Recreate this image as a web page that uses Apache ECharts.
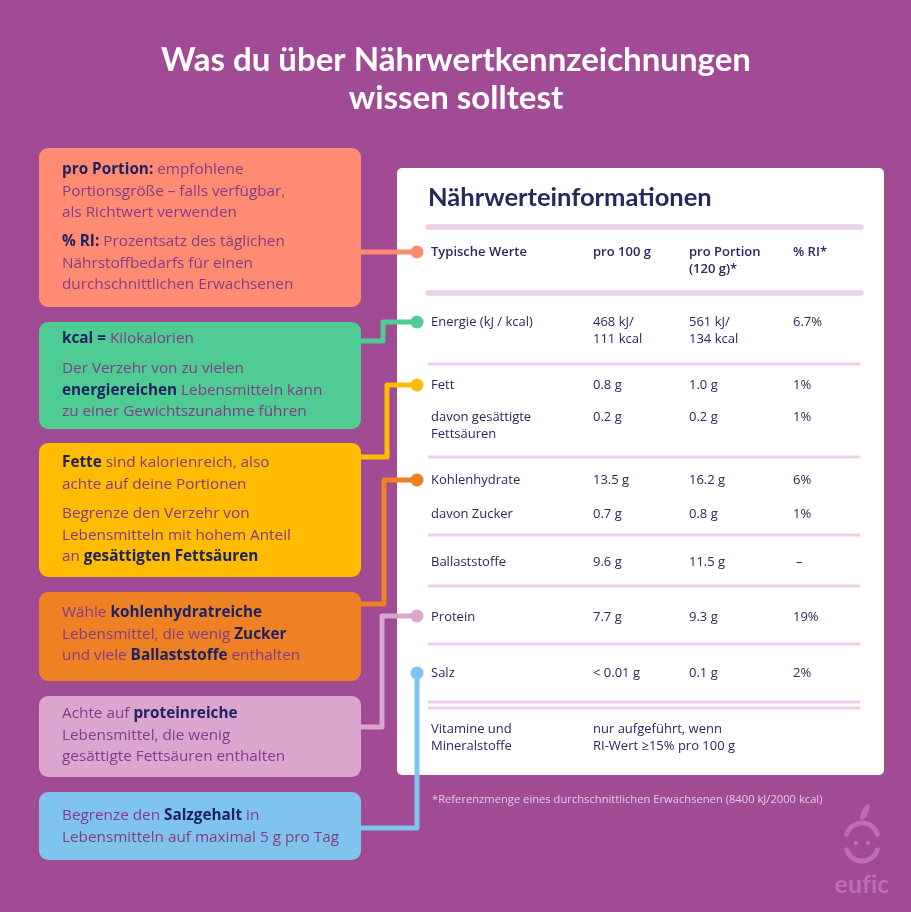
<!DOCTYPE html>
<html><head><meta charset="utf-8">
<script src="https://cdn.jsdelivr.net/npm/echarts@6/dist/echarts.min.js"></script>
<style>html,body{margin:0;padding:0;background:#A04B93}#c{width:911px;height:912px}</style>
</head><body><div id="c"></div>
<script>
// ---------- content ----------
const titleLines = ['Was du über Nährwertkennzeichnungen', 'wissen solltest'];
const tableTitle = 'Nährwerteinformationen';
const tableHeader = ['Typische Werte', 'pro 100 g', 'pro Portion\n(120 g)*', '% RI*'];
const nutrientLabels = ['Energie (kJ / kcal)', 'Fett', 'davon gesättigte\nFettsäuren', 'Kohlenhydrate', 'davon Zucker', 'Ballaststoffe', 'Protein', 'Salz'];
const per100g = ['468 kJ/\n111 kcal', '0.8 g', '0.2 g', '13.5 g', '0.7 g', '9.6 g', '7.7 g', '< 0.01 g'];
const perPortion = ['561 kJ/\n134 kcal', '1.0 g', '0.2 g', '16.2 g', '0.8 g', '11.5 g', '9.3 g', '0.1 g'];
const riPercent = ['6.7%', '1%', '1%', '6%', '1%', '–', '19%', '2%'];
const vitaminLabel = 'Vitamine und\nMineralstoffe';
const vitaminNote = 'nur aufgeführt, wenn\nRI-Wert ≥15% pro 100 g';
const footnote = '*Referenzmenge eines durchschnittlichen Erwachsenen (8400 kJ/2000 kcal)';
const logoText = 'eufic';
const tipTexts = [
  ['{b|pro Portion:} empfohlene\nPortionsgröße – falls verfügbar,\nals Richtwert verwenden',
   '{b|% RI:} Prozentsatz des täglichen\nNährstoffbedarfs für einen\ndurchschnittlichen Erwachsenen'],
  ['{b|kcal =} Kilokalorien',
   'Der Verzehr von zu vielen\n{b|energiereichen} Lebensmitteln kann\nzu einer Gewichtszunahme führen'],
  ['{b|Fette} sind kalorienreich, also\nachte auf deine Portionen',
   'Begrenze den Verzehr von\nLebensmitteln mit hohem Anteil\nan {b|gesättigten Fettsäuren}'],
  ['Wähle {b|kohlenhydratreiche}\nLebensmittel, die wenig {b|Zucker}\nund viele {b|Ballaststoffe} enthalten'],
  ['Achte auf {b|proteinreiche}\nLebensmittel, die wenig\ngesättigte Fettsäuren enthalten'],
  ['Begrenze den {b|Salzgehalt} in\nLebensmitteln auf maximal 5 g pro Tag']
];
const tipColors = ['#FF8B73', '#4FCB94', '#FFBC00', '#EE8123', '#DBA6CE', '#7FC4EC'];

// ---------- layout ----------
const FONT = 'Lato', BODY = 'Open Sans';
const BG = '#A04B93', NAVY = '#252A5C', PURPLE = '#843B88', RULE = '#EBD2EA';
const tipBoxes = [[148, 307], [322, 429], [443, 577], [592, 681], [696, 777], [792, 860]];
const tipParaY = [[170, 242], [339, 369], [463, 514], [613], [714], [816]];
const colX = [431, 593, 689, 793];
const headerY = 252;
const rowY = [322, 385, 417, 480, 514, 562, 617, 673];
const vitaminY = 729;
const rules = [[227, 5.5, 428, 861], [293, 5.5, 428, 861], [364, 3, 429, 859], [457, 3, 429, 859], [535, 3, 429, 859],
               [586, 3, 429, 859], [644, 3, 429, 859], [702, 3, 429, 859], [708, 3, 429, 859]];
const connectors = [
  {c: 0, dotY: 252, pts: [[355, 252], [417, 252]]},
  {c: 1, dotY: 322, pts: [[355, 341], [383, 341], [383, 322], [417, 322]]},
  {c: 2, dotY: 385, pts: [[417, 385], [387, 385], [387, 457], [355, 457]]},
  {c: 3, dotY: 480, pts: [[417, 480], [384, 480], [384, 604], [355, 604]]},
  {c: 4, dotY: 616, pts: [[417, 616], [382, 616], [382, 727], [355, 727]]},
  {c: 5, dotY: 673, pts: [[417, 673], [417, 828], [355, 828]]}
];

const g = [];
function txt(x, y, text, o) {
  g.push({type: 'text', x: x, y: y, z: 10, style: Object.assign({
    text: text, fontFamily: BODY, fontSize: 13, fill: NAVY, textAlign: 'left', textVerticalAlign: 'top', lineHeight: 17
  }, o || {})});
}
// title
titleLines.forEach((t, i) => {
  txt(456, [60, 98][i], t, {fontFamily: FONT, fontSize: 33, fontWeight: 'bold', fill: '#ffffff', textAlign: 'center', textVerticalAlign: 'middle', lineHeight: 38});
});
// table box
g.push({type: 'rect', shape: {x: 397, y: 168, width: 487, height: 607, r: 5}, style: {fill: '#ffffff'}, z: 1});
txt(428, 198, tableTitle, {fontFamily: FONT, fontSize: 25.5, fontWeight: 'bold', textVerticalAlign: 'middle', lineHeight: 30});
rules.forEach(r => {
  g.push({type: 'line', z: 2, shape: {x1: r[2], y1: r[0], x2: r[3], y2: r[0]}, style: {stroke: RULE, lineWidth: r[1], lineCap: 'round'}});
});
tableHeader.forEach((h, i) => txt(colX[i], headerY - 8.5, h, {fontWeight: 600}));
nutrientLabels.forEach((lab, i) => {
  const y = rowY[i] - 8.5;
  txt(colX[0], y, lab);
  txt(colX[1], y, per100g[i]);
  txt(colX[2], y, perPortion[i]);
  txt(colX[3] + (riPercent[i] === '–' ? 3 : 0), y, riPercent[i]);
});
txt(colX[0], vitaminY - 8.5, vitaminLabel);
txt(colX[1], vitaminY - 8.5, vitaminNote);
// connectors
connectors.forEach(cn => {
  g.push({type: 'polyline', z: 3, shape: {points: cn.pts}, style: {stroke: tipColors[cn.c], lineWidth: 5, lineJoin: 'round', lineCap: 'round', fill: null}});
  g.push({type: 'circle', z: 6, shape: {cx: 417, cy: cn.dotY, r: 6.5}, style: {fill: tipColors[cn.c]}});
});
// tip boxes
tipBoxes.forEach((b, i) => {
  g.push({type: 'rect', z: 4, shape: {x: 39, y: b[0], width: 322, height: b[1] - b[0], r: 9}, style: {fill: tipColors[i]}});
  tipTexts[i].forEach((p, j) => {
    txt(62, tipParaY[i][j] - 10.75, p, {fontSize: 15.3, fontWeight: 500, fill: PURPLE, lineHeight: 21.5,
      rich: {b: {fontSize: 15.3, fontFamily: BODY, fontWeight: 'bold', fill: '#1E2261', lineHeight: 21.5}}});
  });
});
// footnote
txt(432, 800, footnote, {fontSize: 11.2, fill: '#E9C7E3', textVerticalAlign: 'middle', lineHeight: 14});
// logo
const LOGO = '#BE6CB3';
g.push({type: 'arc', z: 5, shape: {cx: 862, cy: 839, r: 16, startAngle: Math.PI + 0.3, endAngle: 2 * Math.PI - 0.3}, style: {stroke: LOGO, lineWidth: 5, lineCap: 'round', fill: null}});
g.push({type: 'arc', z: 5, shape: {cx: 862, cy: 845, r: 16, startAngle: 0.3, endAngle: Math.PI - 0.3}, style: {stroke: LOGO, lineWidth: 5, lineCap: 'round', fill: null}});
g.push({type: 'circle', z: 5, shape: {cx: 856, cy: 843, r: 2.2}, style: {fill: LOGO}});
g.push({type: 'circle', z: 5, shape: {cx: 868, cy: 843, r: 2.2}, style: {fill: LOGO}});
g.push({type: 'ellipse', z: 5, x: 865, y: 812, rotation: -0.45, shape: {cx: 0, cy: 0, rx: 3.2, ry: 8.5}, style: {fill: LOGO}});
txt(862, 885, logoText.split('').join('\u200C'), {fontFamily: FONT, fontSize: 25, fontWeight: 'bold', fill: LOGO, textAlign: 'center', textVerticalAlign: 'middle', lineHeight: 28});

const chart = echarts.init(document.getElementById('c'), null, {renderer: 'canvas'});
chart.setOption({backgroundColor: BG, animation: false, graphic: {elements: g}});
</script></body></html>
